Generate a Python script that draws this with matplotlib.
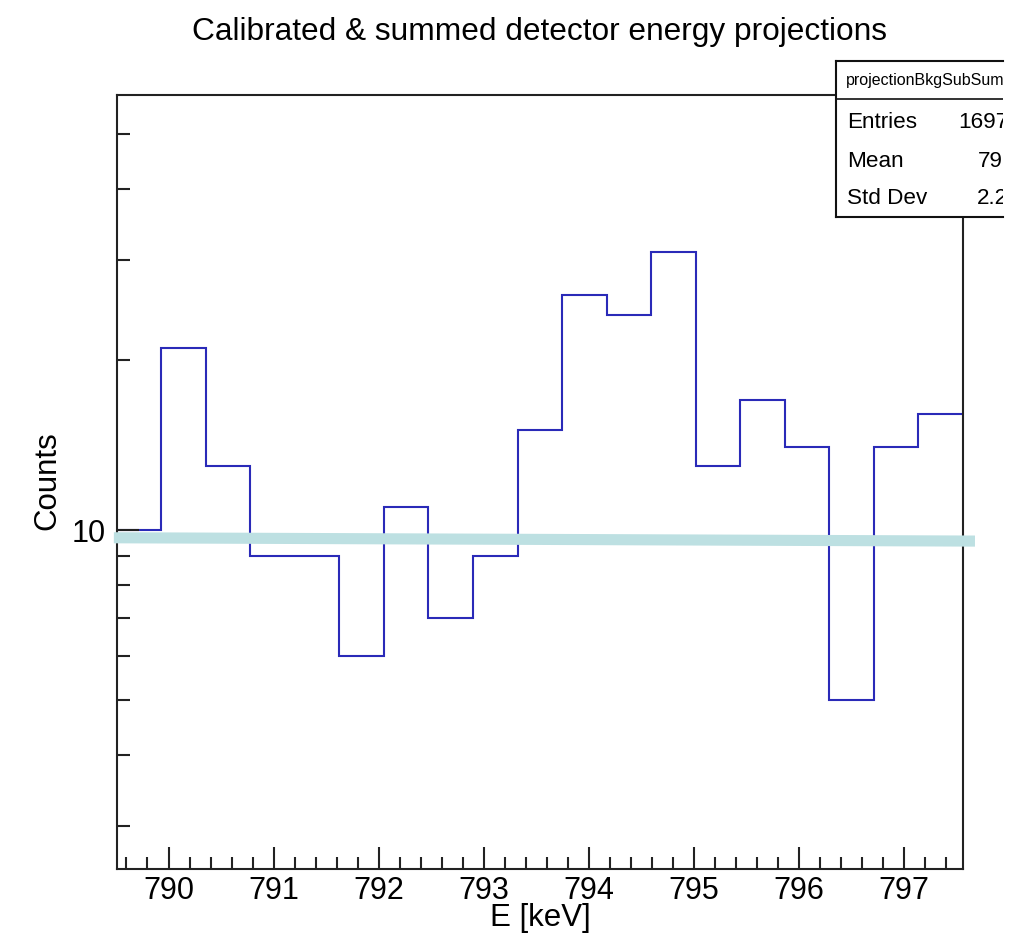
import numpy as np
import matplotlib
matplotlib.use('Agg')
import matplotlib.pyplot as plt
from matplotlib.ticker import FixedLocator, NullFormatter, FixedFormatter

plt.rcParams['font.family'] = ['Liberation Sans', 'DejaVu Sans']

# histogram: background-subtracted, summed projection
e_lo, e_hi, nbins = 789.507, 797.56, 19
counts = [10, 21, 13, 9, 9, 6, 11, 7, 9, 15, 26, 24, 31, 13, 17, 14, 5, 14, 16]

# background line end points
bkg_e = [789.48, 797.674]
bkg_y = [9.69, 9.56]

# stats box
stat_names = ['Entries', 'Mean', 'Std Dev']
stat_vals = ['16974', '795.1', '2.271']
hist_name = 'projectionBkgSubSum'

edges = np.linspace(e_lo, e_hi, nbins + 1)

fig = plt.figure(figsize=(10.1, 9.4), dpi=100)
ax = fig.add_axes([116.7/1010, 1-869/940, (963-116.7)/1010, (869-95)/940])

ax.stairs(counts, edges, baseline=None, color='#2a2ab8', lw=1.5)
ax.plot(bkg_e, bkg_y, color='#bde0e2', lw=8, clip_on=False, solid_capstyle='butt', zorder=3)

ax.set_yscale('log')
ax.set_xlim(e_lo, e_hi)
ax.set_ylim(2.518, 58.7)

ax.xaxis.set_major_locator(FixedLocator(np.arange(790, 798)))
ax.xaxis.set_minor_locator(FixedLocator(np.arange(789.6, 797.6, 0.2)))
ax.yaxis.set_major_locator(FixedLocator([10]))
ax.yaxis.set_major_formatter(FixedFormatter(['10']))
ax.yaxis.set_minor_locator(FixedLocator([3, 4, 5, 6, 7, 8, 9, 20, 30, 40, 50]))
ax.yaxis.set_minor_formatter(NullFormatter())

ax.tick_params(which='both', direction='in', width=1.5, color='#222222', labelsize=22)
ax.tick_params(axis='x', which='major', length=16, pad=5)
ax.tick_params(axis='x', which='minor', length=8.6)
ax.tick_params(axis='y', which='major', length=16, pad=8)
ax.tick_params(axis='y', which='minor', length=9.4)
for s in ax.spines.values():
    s.set_linewidth(1.5)
    s.set_color('#222222')

fig.text(540/1010, 1-32/940, 'Calibrated & summed detector energy projections',
         ha='center', va='center', fontsize=22.8)
fig.text(540/1010, 1-918/940, 'E [keV]', ha='center', va='center', fontsize=22.5)
fig.text(47/1010, 1-481/940, 'Counts', ha='center', va='center', fontsize=22.5, rotation=90)

# stats box, right part runs off the canvas
sb = fig.add_axes([836/1010, 1-216.7/940, (1003-836)/1010, (216.7-61)/940])
sb.set_xlim(836, 1003)
sb.set_ylim(216.7, 61)
sb.set_xticks([])
sb.set_yticks([])
sb.set_facecolor('white')
sb.spines['right'].set_visible(False)
for k in ['left', 'top', 'bottom']:
    sb.spines[k].set_linewidth(1.5)
    sb.spines[k].set_color('#111111')
sb.axhline(98.5, color='#111111', lw=1.2)
sb.text(846, 80, hist_name, fontsize=11.5, va='center', ha='left', clip_on=True)
for name, val, y, xv in zip(stat_names, stat_vals, [123, 161, 198], [958, 978, 977]):
    sb.text(847, y, name, fontsize=16.2, va='center', ha='left')
    sb.text(xv, y, val, fontsize=16.2, va='center', ha='left', clip_on=True)

fig.savefig('out.png', dpi=100)
